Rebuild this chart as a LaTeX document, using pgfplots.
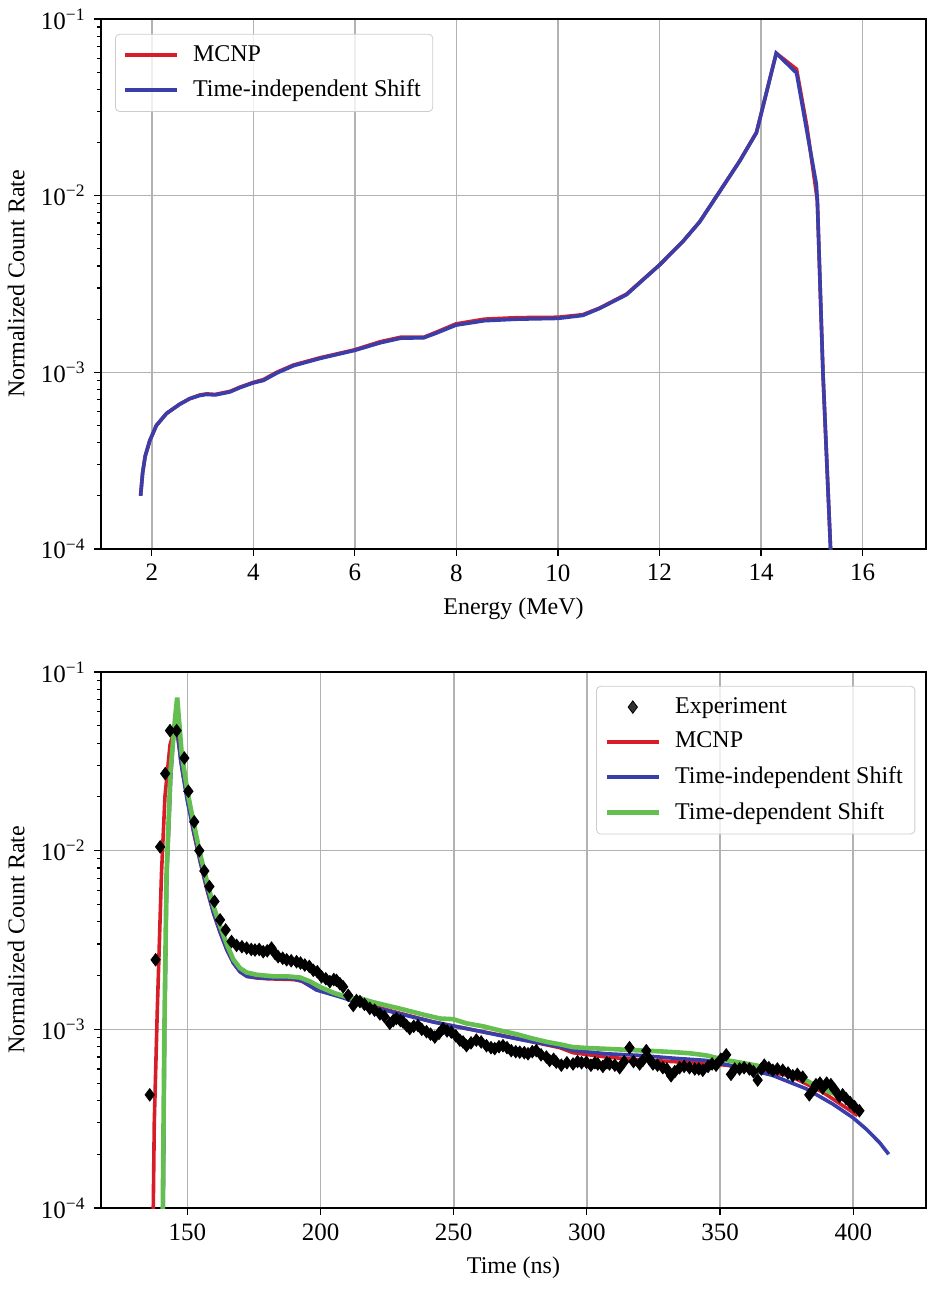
\documentclass[border=0pt]{standalone}
\usepackage{fontspec}
\setmainfont{Liberation Serif}
\usepackage{pgfplots}
\usepackage{pgfplotstable}
\pgfplotsset{compat=1.18}
\definecolor{cred}{RGB}{215,30,40}
\definecolor{cblue}{RGB}{58,62,170}
\definecolor{cgreen}{RGB}{100,190,80}

\pgfplotstableread{
E y
1.78 2.0e-4
1.82 2.7e-4
1.87 3.35e-4
1.96 4.1e-4
2.09 5.0e-4
2.29 5.85e-4
2.55 6.6e-4
2.75 7.1e-4
2.95 7.4e-4
3.08 7.5e-4
3.25 7.45e-4
3.54 7.75e-4
3.74 8.2e-4
3.99 8.7e-4
4.20 9.0e-4
4.46 9.9e-4
4.79 1.09e-3
5.32 1.2e-3
5.99 1.33e-3
6.50 1.47e-3
6.90 1.56e-3
7.36 1.57e-3
7.61 1.67e-3
7.99 1.85e-3
8.55 1.96e-3
9.20 2.0e-3
10.00 2.02e-3
10.49 2.1e-3
10.82 2.3e-3
11.35 2.75e-3
12.00 4.05e-3
12.46 5.5e-3
12.79 7.1e-3
13.19 1.06e-2
13.58 1.57e-2
13.91 2.27e-2
14.30 6.4e-2
14.70 4.95e-2
14.90 2.35e-2
15.09 1.16e-2
15.11 9.3e-3
15.22 1.0e-3
15.37 1.0e-4
15.40 7e-5
}\topblue

\pgfplotstableread{
E y
1.78 2.0e-4
1.82 2.7e-4
1.87 3.35e-4
1.96 4.1e-4
2.09 5.0e-4
2.29 5.85e-4
2.55 6.6e-4
2.75 7.1e-4
2.95 7.45e-4
3.08 7.55e-4
3.25 7.5e-4
3.54 7.8e-4
3.74 8.25e-4
3.99 8.75e-4
4.20 9.1e-4
4.46 1.0e-3
4.79 1.1e-3
5.32 1.21e-3
5.99 1.34e-3
6.50 1.49e-3
6.90 1.58e-3
7.36 1.58e-3
7.61 1.69e-3
7.99 1.88e-3
8.55 2.0e-3
9.20 2.04e-3
10.00 2.05e-3
10.49 2.12e-3
10.82 2.31e-3
11.35 2.77e-3
12.00 4.05e-3
12.46 5.5e-3
12.79 7.1e-3
13.19 1.06e-2
13.58 1.57e-2
13.91 2.28e-2
14.30 6.4e-2
14.70 5.2e-2
14.90 2.5e-2
15.05 1.25e-2
15.11 9.4e-3
15.22 1.0e-3
15.37 1.0e-4
15.40 7e-5
}\topred

\pgfplotstableread{
t y
135.9 4.3e-4
138.1 2.45e-3
139.8 1.05e-2
141.7 2.7e-2
143.5 4.7e-2
146.0 4.7e-2
148.9 3.3e-2
150.4 2.15e-2
152.6 1.45e-2
154.5 1.0e-2
156.4 7.7e-3
158.3 6.3e-3
160.2 5.2e-3
162.3 4.1e-3
164.4 3.6e-3
166.6 3.1e-3
168.5 2.95e-3
170.5 2.9e-3
172.3 2.85e-3
174.0 2.8e-3
175.4 2.78e-3
177.0 2.8e-3
178.5 2.72e-3
180.0 2.75e-3
181.6 2.85e-3
183.0 2.65e-3
184.1 2.55e-3
185.8 2.5e-3
187.3 2.45e-3
189.0 2.42e-3
191.0 2.39e-3
192.5 2.35e-3
194.1 2.29e-3
195.8 2.25e-3
197.3 2.14e-3
198.8 2.1e-3
200.4 1.97e-3
202.0 1.92e-3
203.5 1.85e-3
205.0 1.9e-3
206.0 1.88e-3
207.3 1.8e-3
208.5 1.73e-3
210.4 1.55e-3
212.3 1.36e-3
213.5 1.45e-3
214.8 1.43e-3
216.5 1.38e-3
218.5 1.31e-3
220.3 1.28e-3
222.3 1.22e-3
224.0 1.18e-3
226.0 1.08e-3
227.3 1.12e-3
228.5 1.15e-3
230.0 1.12e-3
231.0 1.1e-3
232.3 1.05e-3
233.5 1.01e-3
235.0 1.04e-3
236.6 1.05e-3
238.0 1.0e-3
239.8 0.97e-3
241.3 0.94e-3
242.9 0.905e-3
244.5 0.95e-3
246.0 1.01e-3
247.5 0.98e-3
249.1 0.965e-3
250.8 0.92e-3
252.3 0.87e-3
253.5 0.85e-3
254.8 0.81e-3
256.5 0.84e-3
258.5 0.87e-3
260.3 0.85e-3
262.3 0.81e-3
264.0 0.79e-3
265.4 0.78e-3
267.0 0.8e-3
268.5 0.81e-3
270.0 0.79e-3
271.6 0.76e-3
273.3 0.75e-3
274.8 0.745e-3
276.5 0.74e-3
277.9 0.73e-3
279.5 0.75e-3
281.0 0.76e-3
282.8 0.72e-3
284.8 0.70e-3
286.0 0.67e-3
287.5 0.68e-3
288.5 0.655e-3
290.4 0.63e-3
292.5 0.65e-3
294.8 0.64e-3
296.5 0.66e-3
298.0 0.65e-3
299.8 0.655e-3
301.5 0.63e-3
303.0 0.65e-3
304.1 0.64e-3
306.0 0.62e-3
307.5 0.65e-3
308.5 0.64e-3
310.5 0.63e-3
312.3 0.61e-3
314.0 0.66e-3
316.0 0.79e-3
317.5 0.66e-3
319.8 0.64e-3
321.0 0.67e-3
322.3 0.76e-3
323.5 0.68e-3
324.8 0.64e-3
326.5 0.63e-3
328.5 0.61e-3
330.0 0.6e-3
331.6 0.55e-3
333.0 0.58e-3
334.8 0.61e-3
336.5 0.62e-3
338.5 0.61e-3
340.5 0.6e-3
342.0 0.6e-3
343.5 0.59e-3
345.5 0.62e-3
347.0 0.64e-3
348.5 0.63e-3
350.3 0.68e-3
352.3 0.72e-3
354.1 0.56e-3
355.5 0.6e-3
357.3 0.6e-3
359.0 0.61e-3
361.0 0.6e-3
362.5 0.58e-3
364.1 0.52e-3
365.5 0.6e-3
366.6 0.63e-3
368.3 0.61e-3
369.8 0.59e-3
371.5 0.6e-3
373.5 0.59e-3
375.5 0.57e-3
377.3 0.55e-3
379.0 0.56e-3
381.0 0.54e-3
383.5 0.43e-3
385.0 0.46e-3
386.0 0.49e-3
387.5 0.5e-3
388.5 0.47e-3
390.0 0.5e-3
391.6 0.49e-3
393.0 0.46e-3
394.8 0.42e-3
396.0 0.43e-3
397.3 0.41e-3
398.8 0.39e-3
400.4 0.37e-3
402.3 0.35e-3
}\expdata

\pgfplotstableread{
t y
137.1 7e-5
137.6 3e-4
138.7 1.23e-3
140.3 7.4e-3
141.6 2.0e-2
143.5 3.9e-2
145.2 4.8e-2
146.5 4.2e-2
148.5 2.6e-2
150.5 1.85e-2
152.3 1.28e-2
154.8 8.7e-3
157.3 6.1e-3
159.8 4.5e-3
162.3 3.5e-3
164.8 2.8e-3
167.3 2.35e-3
169.8 2.1e-3
172.4 1.98e-3
176.0 1.94e-3
180.0 1.92e-3
185.0 1.91e-3
190.0 1.9e-3
193.0 1.86e-3
198.5 1.67e-3
207.3 1.53e-3
217.3 1.38e-3
229.8 1.23e-3
242.3 1.1e-3
254.8 1.01e-3
267.3 0.93e-3
279.8 0.85e-3
289.8 0.79e-3
294.8 0.74e-3
307.3 0.70e-3
319.8 0.675e-3
332.3 0.66e-3
344.8 0.645e-3
352.3 0.63e-3
363.5 0.59e-3
376.0 0.552e-3
388.5 0.445e-3
399.8 0.344e-3
401.6 0.329e-3
}\botred

\pgfplotstableread{
t y
140.9 7e-5
141.5 1e-3
142.3 7e-3
143.8 2.6e-2
145.0 4.8e-2
145.8 5.6e-2
147.5 3.2e-2
150.0 1.9e-2
152.3 1.3e-2
154.8 8.8e-3
157.3 6.2e-3
159.8 4.5e-3
162.3 3.5e-3
164.8 2.8e-3
167.3 2.35e-3
169.8 2.1e-3
172.4 1.98e-3
176.0 1.95e-3
180.0 1.93e-3
185.0 1.93e-3
189.8 1.92e-3
193.0 1.87e-3
198.5 1.66e-3
207.3 1.52e-3
217.3 1.36e-3
229.8 1.22e-3
242.3 1.1e-3
254.8 1.01e-3
267.3 0.925e-3
279.8 0.85e-3
289.8 0.8e-3
294.8 0.762e-3
307.3 0.73e-3
319.8 0.715e-3
332.3 0.69e-3
344.8 0.67e-3
357.3 0.614e-3
369.8 0.552e-3
382.3 0.465e-3
392.3 0.382e-3
399.8 0.321e-3
404.8 0.277e-3
409.8 0.233e-3
413.3 0.2e-3
}\botblue

\pgfplotstableread{
t y
140.7 7e-5
141.4 1e-3
142.2 7.4e-3
143.7 2.8e-2
145.4 5.5e-2
146.2 7.2e-2
147.9 3.5e-2
150.0 2.16e-2
152.3 1.45e-2
154.8 9.6e-3
157.3 6.8e-3
159.8 4.9e-3
162.3 3.8e-3
164.8 3.0e-3
167.3 2.46e-3
169.8 2.2e-3
172.3 2.08e-3
176.1 2.02e-3
182.4 1.98e-3
187.4 1.98e-3
192.3 1.95e-3
196.2 1.85e-3
200.0 1.72e-3
205.0 1.6e-3
211.3 1.49e-3
215.0 1.49e-3
219.0 1.43e-3
224.8 1.36e-3
229.5 1.31e-3
234.8 1.25e-3
239.5 1.2e-3
244.8 1.15e-3
249.8 1.14e-3
254.8 1.08e-3
261.0 1.04e-3
267.3 0.986e-3
273.5 0.94e-3
279.8 0.887e-3
285.0 0.85e-3
289.8 0.825e-3
294.8 0.795e-3
301.0 0.785e-3
307.3 0.778e-3
313.5 0.77e-3
319.8 0.762e-3
326.0 0.755e-3
332.3 0.746e-3
338.5 0.735e-3
344.8 0.715e-3
352.3 0.672e-3
358.0 0.65e-3
363.5 0.628e-3
370.0 0.60e-3
376.0 0.575e-3
381.0 0.53e-3
386.0 0.484e-3
390.5 0.45e-3
394.8 0.425e-3
399.8 0.382e-3
}\botgreen

\pgfplotsset{
  every axis/.append style={
    scale only axis,
    width=412.5pt,
    tick align=outside, tick pos=left,
    major tick length=3.5pt, minor tick length=2pt,
    grid=major,
    major grid style={color=black!30, line width=0.8pt},
    axis line style={line width=0.9pt},
    tick label style={font=\fontsize{12.5}{14}\selectfont},
    label style={font=\fontsize{12}{14}\selectfont},
    legend cell align=left,
    legend style={draw=black!20, rounded corners=2pt, fill=white, fill opacity=0.8, text opacity=1,
      font=\fontsize{12}{14}\selectfont, row sep=3.6pt, inner xsep=4pt, inner ysep=3.5pt,
      /tikz/every odd column/.append style={column sep=5pt}},
  },
  every tick/.style={black, line width=0.6pt},
  legend image code/.code={\draw[mark repeat=2,mark phase=2,#1] plot coordinates {(0pt,0pt) (13pt,0pt) (26pt,0pt)};},
}

\begin{document}
\fontsize{12}{14}\selectfont
\begin{tikzpicture}
\useasboundingbox (0,0) rectangle (467.5pt,645.5pt);
\begin{axis}[at={(50.5pt,371pt)}, anchor=south west, height=265pt,
  ymode=log, ymin=1e-4, ymax=1e-1,
  ytick={1e-4,1e-3,1e-2,1e-1},
  yticklabels={10\textsuperscript{−4},10\textsuperscript{−3},10\textsuperscript{−2},10\textsuperscript{−1}},
  minor ytick={2e-4,3e-4,4e-4,5e-4,6e-4,7e-4,8e-4,9e-4,2e-3,3e-3,4e-3,5e-3,6e-3,7e-3,8e-3,9e-3,2e-2,3e-2,4e-2,5e-2,6e-2,7e-2,8e-2,9e-2},
  ylabel={Normalized Count Rate},
  xmin=1.0, xmax=17.25, xtick={2,4,6,8,10,12,14,16}, xticklabels={2,4,6,8,10,12,14,16},
  xlabel={Energy (MeV)},
  legend style={at={(0.017,0.972)}, anchor=north west}]
\addplot[cred, line width=1.8pt] table[x=E,y=y] {\topred};
\addlegendentry{MCNP}
\addplot[cblue, line width=1.8pt] table[x=E,y=y] {\topblue};
\addlegendentry{Time-independent Shift}
\end{axis}
\begin{axis}[at={(50.5pt,41.5pt)}, anchor=south west, height=268pt,
  ymode=log, ymin=1e-4, ymax=1e-1,
  ytick={1e-4,1e-3,1e-2,1e-1},
  yticklabels={10\textsuperscript{−4},10\textsuperscript{−3},10\textsuperscript{−2},10\textsuperscript{−1}},
  minor ytick={2e-4,3e-4,4e-4,5e-4,6e-4,7e-4,8e-4,9e-4,2e-3,3e-3,4e-3,5e-3,6e-3,7e-3,8e-3,9e-3,2e-2,3e-2,4e-2,5e-2,6e-2,7e-2,8e-2,9e-2},
  ylabel={Normalized Count Rate},
  xmin=117.6, xmax=427.3, xtick={150,200,250,300,350,400}, xticklabels={150,200,250,300,350,400},
  xlabel={Time (ns)},
  legend style={at={(0.987,0.974)}, anchor=north east}]
\addplot[only marks, mark=diamond*, mark size=3.1pt, black] table[x=t,y=y] {\expdata};
\addlegendentry{Experiment}
\addplot[cred, line width=1.8pt] table[x=t,y=y] {\botred};
\addlegendentry{MCNP}
\addplot[cblue, line width=1.8pt] table[x=t,y=y] {\botblue};
\addlegendentry{Time-independent Shift}
\addplot[cgreen, line width=2.3pt] table[x=t,y=y] {\botgreen};
\addlegendentry{Time-dependent Shift}
\end{axis}
\end{tikzpicture}
\end{document}
